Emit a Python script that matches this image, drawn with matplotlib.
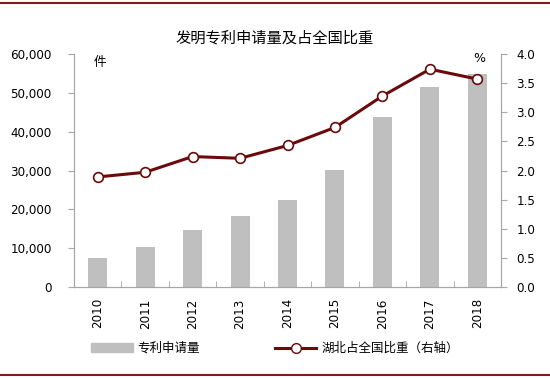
import matplotlib
matplotlib.use("Agg")
import matplotlib.pyplot as plt
from matplotlib.lines import Line2D
from matplotlib.patches import Patch
import numpy as np

plt.rcParams['font.family'] = ['Noto Sans CJK SC', 'DejaVu Sans']

years = ["2010", "2011", "2012", "2013", "2014", "2015", "2016", "2017", "2018"]
applications = [7500, 10400, 14700, 18200, 22500, 30200, 43800, 51500, 54900]
share = [1.89, 1.97, 2.24, 2.21, 2.43, 2.74, 3.28, 3.74, 3.57]

bar_color = "#BFBFBF"
line_color = "#6B0A0A"
spine_color = "#A6A6A6"

fig = plt.figure(figsize=(5.5, 3.78), dpi=100)
ax = fig.add_axes([0.1345, 0.2407, 0.7765, 0.6163])
x = np.arange(len(years))
ax.bar(x, applications, width=0.4, color=bar_color, zorder=2)
ax.set_xlim(-0.5, len(years) - 0.5)
ax.set_ylim(0, 60000)
ax.set_yticks(np.arange(0, 60001, 10000))
ax.set_yticklabels([f"{v:,}" for v in range(0, 60001, 10000)], family="DejaVu Sans", fontsize=8.6)
ax.set_xticks(x)
ax.set_xticklabels(years, rotation=90, family="DejaVu Sans", fontsize=8.6)
ax.tick_params(axis="x", length=0, pad=8)
ax.set_xticks(np.arange(-0.5, len(years), 1), minor=True)
ax.tick_params(axis="x", which="minor", length=4, direction="in", color=spine_color)
ax.tick_params(axis="y", length=4, color=spine_color, pad=12)
ax.spines["top"].set_visible(False)
for s in ["left", "right", "bottom"]:
    ax.spines[s].set_color(spine_color)

ax2 = ax.twinx()
ax2.plot(x, share, color=line_color, lw=2.2, marker="o", ms=7,
         markerfacecolor="white", markeredgecolor=line_color, markeredgewidth=1.2, zorder=3)
ax2.set_ylim(0, 4)
ax2.set_yticks(np.arange(0, 4.01, 0.5))
ax2.set_yticklabels([f"{v:.1f}" for v in np.arange(0, 4.01, 0.5)], family="DejaVu Sans", fontsize=8.6)
ax2.tick_params(axis="y", length=4, color=spine_color, pad=7)
ax2.spines["top"].set_visible(False)
for s in ["left", "right", "bottom"]:
    ax2.spines[s].set_color(spine_color)

ax.text(0.06, 0.99, "件", transform=ax.transAxes, fontsize=9, va="top", ha="center")
ax.text(0.948, 1.01, "%", transform=ax.transAxes, fontsize=9, va="top", ha="center",
        family="DejaVu Sans")

fig.text(0.5, 0.9, "发明专利申请量及占全国比重", ha="center", va="center", fontsize=11)

handles = [Patch(color=bar_color),
           Line2D([0], [0], color=line_color, lw=2.2, marker="o", ms=7,
                  markerfacecolor="white", markeredgecolor=line_color)]
fig.legend(handles, ["专利申请量", "湖北占全国比重（右轴）"], loc="center",
           bbox_to_anchor=(0.5, 0.078), ncol=2, frameon=False, fontsize=9,
           handlelength=3.3, columnspacing=6, handletextpad=0.4)

fig.add_artist(Line2D([0, 1], [0.992, 0.992], color="#7B1E1E", lw=1.5))
fig.add_artist(Line2D([0, 1], [0.008, 0.008], color="#7B1E1E", lw=1.5))

fig.savefig("out.png", dpi=100)
